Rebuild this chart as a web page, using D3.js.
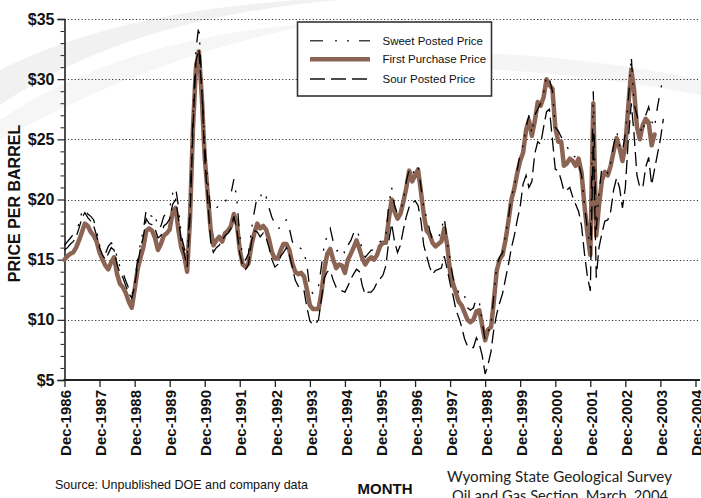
<!DOCTYPE html>
<html>
<head>
<meta charset="utf-8">
<script src="https://cdn.jsdelivr.net/npm/d3@7"></script>
<style>
  html, body { margin: 0; padding: 0; background: #ffffff; }
  svg { display: block; font-family: "Liberation Sans", Arial, Helvetica, sans-serif; }
</style>
</head>
<body>
<svg id="chart" width="701" height="498"></svg>
<script>
// ---------------- DATA (monthly, starting Dec-1986) ----------------
const startMonth = "1986-12";

const firstPurchase = [
  15.0,15.3,15.5,15.6,16.0,16.6,17.3,18.0,17.8,17.3,17.0,16.5,
  15.6,15.0,14.5,14.2,14.8,15.2,13.8,13.0,12.7,12.2,11.5,11.0,
  12.5,14.2,15.2,16.0,17.4,17.6,17.4,16.8,15.8,16.3,17.0,17.2,
  17.5,19.0,19.3,17.5,16.0,15.3,14.0,18.5,26.0,31.0,32.3,28.5,
  23.5,20.5,17.5,16.2,16.6,16.9,16.5,17.2,17.4,17.8,18.8,18.0,
  15.8,14.6,14.4,14.7,16.2,17.2,18.0,17.6,17.8,17.5,16.7,15.6,
  15.1,15.1,15.8,16.3,16.3,15.8,14.7,14.0,13.8,13.9,13.6,12.5,
  11.2,10.9,10.9,10.9,12.3,14.2,15.5,15.9,15.0,14.3,14.6,14.5,
  13.9,15.0,15.5,16.0,16.6,15.9,15.1,14.6,15.0,15.2,15.0,15.4,
  16.1,16.4,16.4,18.3,20.0,19.0,18.4,18.8,19.8,21.0,22.4,21.5,
  22.0,22.5,20.6,18.8,17.4,17.1,16.4,16.1,16.3,16.5,17.6,16.2,
  14.0,13.0,12.2,11.5,11.2,10.6,10.0,9.8,10.0,10.7,10.8,9.5,
  8.3,9.2,9.4,11.5,14.1,15.0,15.4,16.6,18.2,20.0,20.9,22.2,
  23.2,23.9,25.8,26.6,25.3,26.5,28.1,27.8,28.5,30.0,29.5,29.2,
  26.0,24.8,24.8,22.8,23.0,23.4,23.2,22.8,23.4,22.2,19.5,17.2,
  15.4,28.0,17.0,19.5,21.6,22.3,22.0,22.8,24.0,25.1,24.3,23.2,
  24.5,27.8,30.8,29.2,26.0,25.0,26.2,26.7,26.4,24.5,25.4
];

const sweetPosted = [
  16.2,16.5,16.8,17.1,17.3,18.0,19.0,19.2,18.8,18.6,18.3,17.4,
  16.2,15.8,15.5,16.1,16.4,16.2,15.2,14.4,13.9,13.2,12.6,12.0,
  13.0,15.0,16.4,17.4,19.2,18.7,18.6,18.8,17.6,17.8,18.6,18.9,
  19.3,20.5,21.0,19.5,17.0,16.0,15.2,19.5,27.0,32.5,34.5,29.5,
  24.5,21.5,19.0,19.0,19.3,19.5,19.6,19.8,20.2,20.5,21.7,20.0,
  17.0,15.2,15.0,15.5,17.5,19.0,20.3,20.5,19.9,20.2,19.3,18.5,
  18.0,17.5,17.8,18.2,18.3,17.6,16.5,16.0,16.1,15.9,15.6,14.5,
  12.5,12.2,12.4,12.8,14.5,16.3,17.0,17.6,16.5,15.7,15.8,16.0,
  15.5,16.2,16.6,17.2,17.6,16.8,15.8,15.2,15.5,15.8,15.8,16.3,
  16.5,16.6,17.0,19.5,21.0,19.5,18.8,19.0,19.9,21.5,22.5,22.0,
  22.6,22.8,21.0,19.3,18.5,17.5,16.6,16.6,16.8,17.5,18.5,16.5,
  15.0,13.5,12.6,12.3,12.4,12.0,11.0,10.8,11.0,11.8,11.5,9.8,
  8.3,9.0,9.6,12.0,14.5,15.2,15.6,17.0,18.5,20.3,21.0,22.5,
  23.8,24.5,26.0,27.0,25.5,27.0,27.5,28.0,28.8,30.3,30.0,29.0,
  26.0,25.7,25.2,24.6,24.4,24.0,23.7,23.5,23.0,22.0,19.5,17.5,
  16.0,29.0,17.5,20.5,22.7,22.5,22.2,23.0,24.5,25.7,24.5,24.0,
  25.5,28.2,31.9,28.0,27.0,26.0,25.5,27.0,27.7,26.5,26.0,27.7,29.0,30.2
];

const sourPosted = [
  15.8,16.0,16.3,16.5,16.9,17.6,18.5,18.9,18.5,18.2,17.8,17.0,
  16.0,15.4,15.0,15.5,16.0,15.8,14.6,13.9,13.5,12.8,12.2,11.8,
  12.8,14.6,16.0,16.9,18.4,18.0,17.9,17.6,16.8,17.0,17.8,18.0,
  18.4,19.6,20.0,18.5,16.5,15.5,14.4,18.5,26.0,31.5,32.5,29.0,
  23.5,20.0,16.5,15.6,16.0,16.2,16.6,17.0,17.2,17.6,18.6,17.5,
  15.5,14.5,14.2,14.6,16.5,17.4,17.3,16.9,17.2,16.8,16.0,15.0,
  14.4,14.6,15.3,15.6,16.0,15.4,14.4,13.3,12.8,12.6,12.4,11.0,
  9.9,9.6,9.7,10.0,11.8,13.5,14.0,14.1,13.3,12.7,12.5,12.4,
  12.3,12.8,13.4,13.8,14.2,14.0,12.8,12.1,12.3,12.3,12.6,13.1,
  13.4,13.7,14.5,16.5,18.0,16.5,15.6,16.2,17.5,18.6,19.4,19.7,
  19.9,19.5,18.2,16.2,15.3,14.4,13.8,14.1,14.2,14.3,15.3,14.2,
  13.0,12.0,10.8,10.2,9.4,8.4,7.8,7.7,7.7,8.5,8.0,7.0,
  5.5,6.3,7.4,9.2,10.5,11.4,12.2,13.4,14.6,16.0,17.0,18.3,
  19.4,21.3,22.0,21.0,21.5,23.8,24.8,24.6,26.0,27.3,27.5,25.0,
  22.5,22.4,21.6,20.7,20.8,21.0,20.2,19.6,19.0,17.8,15.5,13.6,
  12.4,25.5,13.5,16.0,17.2,18.2,18.3,19.0,20.8,21.8,21.0,19.3,
  21.0,25.0,28.0,25.5,22.0,21.0,21.0,22.7,23.5,21.2,22.5,23.8,25.0,26.7
];

const xTickLabels = ["Dec-1986","Dec-1987","Dec-1988","Dec-1989","Dec-1990","Dec-1991",
  "Dec-1992","Dec-1993","Dec-1994","Dec-1995","Dec-1996","Dec-1997","Dec-1998",
  "Dec-1999","Dec-2000","Dec-2001","Dec-2002","Dec-2003","Dec-2004"];
const yTickValues = [5,10,15,20,25,30,35];
const yTickLabels = ["$5","$10","$15","$20","$25","$30","$35"];

const seriesNames = ["Sweet Posted Price","First Purchase Price","Sour Posted Price"];

// ---------------- CHART ----------------
const svg = d3.select("#chart");

// faint watermark swooshes in the background
const bg = svg.append("g");
bg.append("path")
  .attr("d", "M0,70 C60,40 150,10 300,0 L340,0 C200,12 90,45 0,105 Z")
  .attr("fill", "#f1f1f1");
bg.append("path")
  .attr("d", "M0,120 C90,60 200,30 330,22 C220,40 110,80 0,140 Z")
  .attr("fill", "#f6f6f6");
bg.append("path")
  .attr("d", "M330,60 C450,45 580,55 701,80 L701,95 C580,72 450,62 330,70 Z")
  .attr("fill", "#f5f5f5");

const parseMonth = d3.timeParse("%Y-%m");
const start = parseMonth(startMonth);
const tickDates = xTickLabels.map(s => d3.timeParse("%b-%Y")(s));

const plotLeft = 64.5, plotRight = 700, plotTop = 19, plotBottom = 380;

const x = d3.scaleTime()
  .domain([tickDates[0], tickDates[tickDates.length - 1]])
  .range([64.5, 695.5]);
const y = d3.scaleLinear().domain([5, 35]).range([plotBottom, plotTop]);

const toPoints = arr => arr.map((v, i) => ({date: d3.timeMonth.offset(start, i), value: v}));

// dotted gridlines
svg.append("g").selectAll("line")
  .data(yTickValues.filter(v => v > 5))
  .join("line")
  .attr("x1", plotLeft).attr("x2", plotRight)
  .attr("y1", d => Math.round(y(d)) + 0.5).attr("y2", d => Math.round(y(d)) + 0.5)
  .attr("stroke", "#333").attr("stroke-width", 1)
  .attr("stroke-dasharray", "1.2,2.2");

// Y axis (major + minor ticks)
const yAxisMajor = d3.axisLeft(y).tickValues(yTickValues)
  .tickFormat((d, i) => yTickLabels[i]).tickSize(7).tickPadding(3);
const gy = svg.append("g").attr("transform", `translate(${plotLeft},0)`).call(yAxisMajor);
gy.select(".domain").attr("stroke", "#222").attr("stroke-width", 1.6);
gy.selectAll(".tick line").attr("stroke", "#222").attr("stroke-width", 1.2);
gy.selectAll(".tick text").attr("font-size", 16).attr("font-weight", "bold")
  .attr("fill", "#111").attr("font-family", "'Liberation Sans', Arial, sans-serif");

const yAxisMinor = d3.axisLeft(y).tickValues(d3.range(5, 36, 1).filter(v => v % 5 !== 0))
  .tickSize(4).tickFormat("");
const gyMinor = svg.append("g").attr("transform", `translate(${plotLeft},0)`).call(yAxisMinor);
gyMinor.select(".domain").remove();
gyMinor.selectAll(".tick line").attr("stroke", "#222").attr("stroke-width", 1);

// X axis
const xAxis = d3.axisBottom(x).tickValues(tickDates)
  .tickFormat((d, i) => xTickLabels[i]).tickSize(7);
const gx = svg.append("g").attr("transform", `translate(0,${plotBottom})`).call(xAxis);
gx.select(".domain").remove();
gx.selectAll(".tick line").attr("stroke", "#222").attr("stroke-width", 1.3);
gx.selectAll(".tick text")
  .attr("font-size", 15).attr("font-weight", "bold").attr("fill", "#111")
  .attr("font-family", "'Liberation Sans', Arial, sans-serif")
  .attr("transform", "rotate(-90)")
  .attr("text-anchor", "end")
  .attr("x", -10).attr("y", 1).attr("dy", "0.35em");

// bottom axis line
svg.append("line")
  .attr("x1", plotLeft - 1).attr("x2", plotRight)
  .attr("y1", plotBottom).attr("y2", plotBottom)
  .attr("stroke", "#222").attr("stroke-width", 2);

// lines
const line = d3.line().x(d => x(d.date)).y(d => y(d.value));

svg.append("path").datum(toPoints(firstPurchase))
  .attr("fill", "none").attr("stroke", "#8b6454").attr("stroke-width", 4.5)
  .attr("stroke-linejoin", "round").attr("stroke-linecap", "round")
  .attr("d", line);

svg.append("path").datum(toPoints(sourPosted))
  .attr("fill", "none").attr("stroke", "#000").attr("stroke-width", 1.3)
  .attr("stroke-dasharray", "14,6")
  .attr("d", line);

svg.append("path").datum(toPoints(sweetPosted))
  .attr("fill", "none").attr("stroke", "#000").attr("stroke-width", 1.3)
  .attr("stroke-dasharray", "13,11,2,9,2,10")
  .attr("d", line);

// Legend
const lg = svg.append("g");
lg.append("rect").attr("x", 297.5).attr("y", 22).attr("width", 194).attr("height", 74)
  .attr("fill", "#ffffff").attr("stroke", "#333").attr("stroke-width", 1.6);
const legendRows = [
  {name: seriesNames[0], y: 40.7, stroke: "#444", width: 1.6, dash: "13,12,2,10,2,10"},
  {name: seriesNames[1], y: 59.3, stroke: "#8b6454", width: 4.5, dash: null},
  {name: seriesNames[2], y: 79, stroke: "#111", width: 1.4, dash: "15,6"}
];
legendRows.forEach(r => {
  lg.append("line").attr("x1", 310).attr("x2", 370).attr("y1", r.y).attr("y2", r.y)
    .attr("stroke", r.stroke).attr("stroke-width", r.width)
    .attr("stroke-dasharray", r.dash);
  lg.append("text").attr("x", 382.5).attr("y", r.y).attr("dy", "0.35em")
    .attr("font-size", 11.5).attr("fill", "#111").text(r.name);
});

// Axis titles and notes
svg.append("text")
  .attr("transform", "translate(20,203.5) rotate(-90)")
  .attr("text-anchor", "middle").attr("font-size", 16).attr("font-weight", "bold")
  .attr("fill", "#111").text("PRICE PER BARREL");

svg.append("text").attr("x", 55).attr("y", 489)
  .attr("font-size", 13).attr("fill", "#111")
  .attr("textLength", 253).attr("lengthAdjust", "spacingAndGlyphs")
  .text("Source: Unpublished DOE and company data");

svg.append("text").attr("x", 385).attr("y", 494)
  .attr("text-anchor", "middle").attr("font-size", 15).attr("font-weight", "bold")
  .attr("fill", "#111").text("MONTH");

svg.append("text").attr("x", 559.5).attr("y", 482)
  .attr("text-anchor", "middle").attr("font-size", 15.5).attr("fill", "#222")
  .attr("font-family", "Lato, 'Open Sans', sans-serif")
  .attr("textLength", 225).attr("lengthAdjust", "spacingAndGlyphs")
  .text("Wyoming State Geological Survey");

svg.append("text").attr("x", 560).attr("y", 501)
  .attr("text-anchor", "middle").attr("font-size", 15.5).attr("fill", "#222")
  .attr("font-family", "Lato, 'Open Sans', sans-serif")
  .attr("textLength", 216).attr("lengthAdjust", "spacingAndGlyphs")
  .text("Oil and Gas Section, March, 2004");
</script>
</body>
</html>
